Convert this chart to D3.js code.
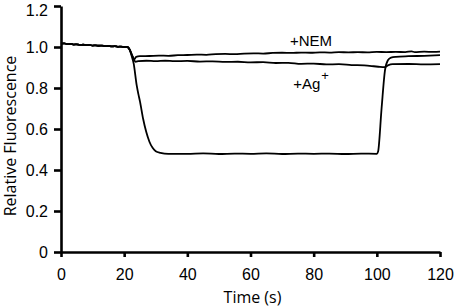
<!DOCTYPE html>
<html>
<head>
<meta charset="utf-8">
<script src="https://cdn.jsdelivr.net/npm/d3@7"></script>
<style>
  body { margin: 0; background: #fff; }
  svg { display: block; }
</style>
</head>
<body>
<div id="chart"></div>
<script>
// --- Data ---
const xTicks = [0, 20, 40, 60, 80, 100, 120];
const yTicks = [0, 0.2, 0.4, 0.6, 0.8, 1.0, 1.2];

// shared pre-addition trace (all three overlap up to ~21 s)
const baseline = [
  [0, 1.016], [1, 1.018], [2, 1.014], [3, 1.015], [4, 1.012], [5, 1.013],
  [6, 1.010], [7, 1.011], [8, 1.009], [9, 1.010], [10, 1.007], [11, 1.008],
  [12, 1.006], [13, 1.007], [14, 1.004], [15, 1.005], [16, 1.003], [17, 1.004],
  [18, 1.001], [19, 1.002], [20, 1.000], [21, 1.000]
];

const nemTrace = [
  [21.8, 0.985], [22.6, 0.955], [23.2, 0.940], [23.8, 0.952], [25, 0.955],
  [28, 0.956], [31, 0.958], [34, 0.957], [37, 0.960], [40, 0.961], [43, 0.963],
  [46, 0.962], [49, 0.965], [52, 0.966], [55, 0.965], [58, 0.968], [61, 0.969],
  [64, 0.968], [67, 0.971], [70, 0.972], [73, 0.971], [76, 0.973], [79, 0.972],
  [82, 0.974], [85, 0.973], [88, 0.975], [91, 0.974], [94, 0.975], [97, 0.974],
  [100, 0.976], [103, 0.975], [106, 0.976], [109, 0.975], [111, 0.979],
  [112, 0.975], [115, 0.977], [118, 0.976], [120, 0.977]
];

const agTrace = [
  [21.8, 0.985], [22.8, 0.950], [23.6, 0.928], [24.5, 0.931], [27, 0.933],
  [30, 0.931], [33, 0.933], [36, 0.931], [40, 0.932], [44, 0.929], [48, 0.930],
  [52, 0.927], [56, 0.928], [60, 0.925], [64, 0.926], [68, 0.922], [72, 0.923],
  [76, 0.918], [80, 0.919], [84, 0.915], [88, 0.916], [92, 0.912], [96, 0.910],
  [99, 0.906], [101, 0.903], [102.5, 0.902], [103.5, 0.910], [105, 0.916],
  [110, 0.917], [115, 0.915], [120, 0.916]
];

const controlTrace = [
  [21.5, 0.995], [22.3, 0.960], [23, 0.920], [24, 0.810], [24.5, 0.770],
  [25, 0.735], [26, 0.650], [27, 0.585], [28, 0.538], [29, 0.508], [30, 0.492],
  [31.5, 0.484], [34, 0.479], [40, 0.479], [45, 0.481], [50, 0.478], [55, 0.480],
  [60, 0.479], [65, 0.481], [70, 0.478], [75, 0.480], [80, 0.479], [85, 0.480],
  [90, 0.478], [95, 0.480], [100, 0.479], [100.4, 0.490], [101.5, 0.700],
  [102.6, 0.888], [103.5, 0.935], [104.5, 0.948], [106, 0.952], [110, 0.955],
  [115, 0.957], [120, 0.960]
];

const series = [
  { name: "control", points: baseline.concat(controlTrace) },
  { name: "ag", points: baseline.concat(agTrace) },
  { name: "nem", points: baseline.concat(nemTrace) }
];

// label anchors in data units
const nemLabel = { t: 72.5, v: 1.005 };
const agLabel = { t: 73.5, v: 0.795 };

// --- Layout ---
const W = 456, H = 308;
const margin = { top: 6, right: 16, bottom: 56, left: 61 };

const x = d3.scaleLinear().domain([0, 120]).range([margin.left, W - margin.right]);
const y = d3.scaleLinear().domain([0, 1.2]).range([H - margin.bottom, margin.top]);

const svg = d3.select("#chart").append("svg")
  .attr("width", W)
  .attr("height", H)
  .attr("viewBox", [0, 0, W, H]);

const tickFont = "'Liberation Sans', Arial, sans-serif";
const titleFont = "'Open Sans', 'Noto Sans', sans-serif";

// --- Traces ---
const line = d3.line()
  .x(d => x(d[0]))
  .y(d => y(d[1]))
  .curve(d3.curveMonotoneX);

svg.append("g")
  .selectAll("path")
  .data(series)
  .join("path")
  .attr("class", d => "trace " + d.name)
  .attr("d", d => line(d.points))
  .attr("fill", "none")
  .attr("stroke", "#000")
  .attr("stroke-width", 1.8)
  .attr("stroke-linejoin", "round");

// --- Axes ---
const xAxisG = svg.append("g")
  .attr("transform", `translate(0,${y(0)})`)
  .call(d3.axisBottom(x).tickValues(xTicks).tickSize(5).tickSizeOuter(0).tickPadding(12));

const yAxisG = svg.append("g")
  .attr("transform", `translate(${x(0)},0)`)
  .call(d3.axisLeft(y).tickValues(yTicks).tickSize(7).tickSizeOuter(0).tickPadding(6)
    .tickFormat(d => d === 0 ? "0" : d3.format(".1f")(d)));

[xAxisG, yAxisG].forEach(g => {
  g.select(".domain").attr("stroke", "#000").attr("stroke-width", 2.6);
  g.selectAll(".tick line").attr("stroke", "#000").attr("stroke-width", 2.6);
  g.selectAll(".tick text")
    .attr("fill", "#000")
    .style("font-family", tickFont)
    .style("font-size", "16px");
});

// top label sits a little lower so it stays inside the frame
yAxisG.selectAll(".tick text")
  .filter(d => d === 1.2)
  .attr("y", 4);

// --- Axis titles ---
svg.append("text")
  .attr("x", (x.range()[0] + x.range()[1]) / 2 + 2)
  .attr("y", 303)
  .attr("text-anchor", "middle")
  .style("font-family", titleFont)
  .style("font-size", "16px")
  .text("Time (s)");

svg.append("text")
  .attr("transform", `translate(16,${(y.range()[0] + y.range()[1]) / 2 + 7}) rotate(-90)`)
  .attr("text-anchor", "middle")
  .style("font-family", titleFont)
  .style("font-size", "16px")
  .text("Relative Fluorescence");

// --- Trace labels ---
svg.append("text")
  .attr("x", x(nemLabel.t))
  .attr("y", y(nemLabel.v))
  .style("font-family", tickFont)
  .style("font-size", "15px")
  .text("+NEM");

const ag = svg.append("text")
  .attr("x", x(agLabel.t))
  .attr("y", y(agLabel.v))
  .style("font-family", tickFont)
  .style("font-size", "15px");
ag.append("tspan").text("+Ag");
ag.append("tspan").attr("dy", -9).attr("dx", 1).style("font-size", "13px").text("+");
</script>
</body>
</html>
